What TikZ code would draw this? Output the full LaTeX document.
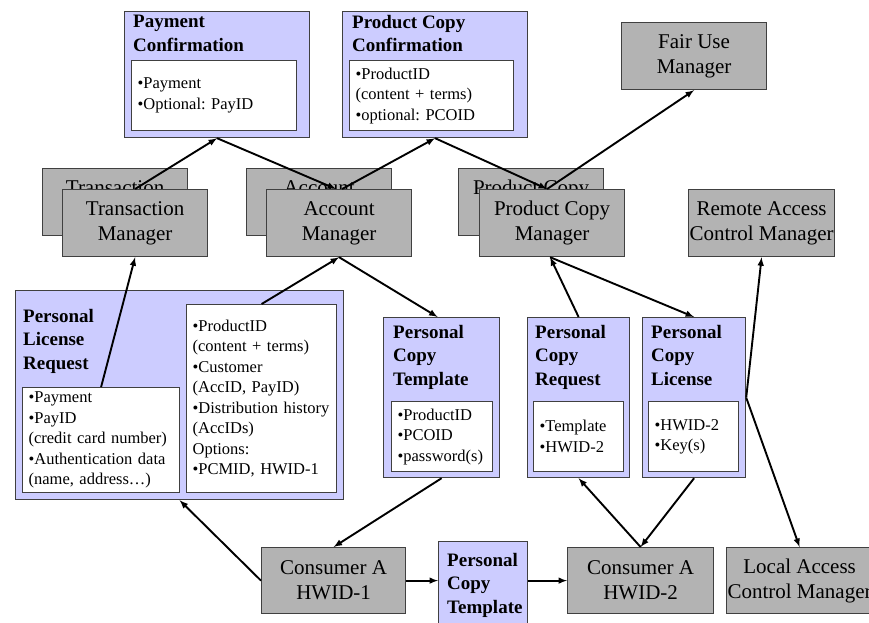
\documentclass[tikz,border=0pt]{standalone}
\usepackage{fontspec}
\setmainfont{Liberation Serif}
\usepackage{tikz}
\usetikzlibrary{arrows,positioning}
\usepackage{xcolor}
\definecolor{msgblue}{RGB}{204,204,255}
\definecolor{mgrgray}{RGB}{179,179,179}
\frenchspacing

\begin{document}
\begin{tikzpicture}[x=1pt,y=-1pt,
        mgr/.style={draw=black!75,line width=1.2pt,fill=mgrgray,align=center,anchor=north west,inner sep=0pt,minimum width=145pt,minimum height=67pt,font=\fontsize{21}{25}\selectfont},
        msg/.style={draw=black!75,line width=1.2pt,fill=msgblue,anchor=north west,inner sep=0pt},
        field/.style={draw=black!75,line width=1.2pt,fill=white,anchor=north west,align=left,inner xsep=6pt,inner ysep=0pt,font=\fontsize{16.5}{20.5}\selectfont},
        ttl/.style={align=left,inner sep=0pt,font=\fontsize{19}{23.5}\selectfont\bfseries},
        flow/.style={-latex,line width=1.9pt}]
        \useasboundingbox (0,0) rectangle (869,622);

        \node [msg,minimum width=185pt,minimum height=126pt] (pc) at (124,11) {};
        \node [ttl,below right=4pt and 9pt of pc.north west] (pc-t) {Payment\\Confirmation};
        \node [field,text width=153pt,minimum height=70pt] (pc-f) at (131,60) {•Payment\\•Optional: PayID};

        \node [msg,minimum width=185pt,minimum height=126pt] (pcc) at (342,11) {};
        \node [ttl,below right=4pt and 10pt of pcc.north west] (pcc-t) {Product Copy\\Confirmation};
        \node [field,text width=152pt,minimum height=70pt] (pcc-f) at (349,60) {•ProductID\\(content + terms)\\•optional: PCOID};

        \node [mgr] (fum) at (621,22) {Fair Use\\Manager};
        \node [mgr] (tmb) at (42,168) {Transaction\\Manager};
        \node [mgr] (tm) at (62,189) {Transaction\\Manager};
        \node [mgr] (amb) at (246,168) {Account\\Manager};
        \node [mgr] (am) at (266,189) {Account\\Manager};
        \node [mgr] (pcmb) at (458,168) {Product Copy\\Manager};
        \node [mgr] (pcm) at (479,189) {Product Copy\\Manager};
        \node [mgr,minimum width=146pt] (racm) at (688,189) {Remote Access\\Control Manager};

        \node [msg,minimum width=328pt,minimum height=209pt] (plr) at (15,290) {};
        \node [ttl,below right=19pt and 8pt of plr.north west] (plr-t) {Personal\\License\\Request};
        \node [field,text width=145pt,minimum height=105pt] (plr-l) at (22,387) {•Payment\\•PayID\\(credit card number)\\•Authentication data\\(name, address…)};
        \node [field,text width=138pt,minimum height=188pt] (plr-r) at (186,304) {•ProductID\\(content + terms)\\•Customer\\(AccID, PayID)\\•Distribution history\\(AccIDs)\\Options:\\•PCMID, HWID-1};

        \node [msg,minimum width=116pt,minimum height=160pt] (pct) at (383,317) {};
        \node [ttl,below right=8pt and 10pt of pct.north west] (pct-t) {Personal\\Copy\\Template};
        \node [field,text width=89pt,minimum height=70pt] (pct-f) at (391,401) {•ProductID\\•PCOID\\•password(s)};

        \node [msg,minimum width=102pt,minimum height=160pt] (pcr) at (527,317) {};
        \node [ttl,below right=8pt and 8pt of pcr.north west] (pcr-t) {Personal\\Copy\\Request};
        \node [field,text width=78pt,minimum height=70pt] (pcr-f) at (533,401) {•Template\\•HWID-2};

        \node [msg,minimum width=103pt,minimum height=160pt] (pcl) at (642,317) {};
        \node [ttl,below right=8pt and 9pt of pcl.north west] (pcl-t) {Personal\\Copy\\License};
        \node [field,text width=78pt,minimum height=70pt] (pcl-f) at (648,401) {•HWID-2\\•Key(s)};

        \node [mgr,minimum width=144pt,minimum height=66pt] (ca1) at (261,547) {Consumer A\\HWID-1};
        \node [msg,minimum width=89pt,minimum height=100pt] (pct2) at (438,541) {};
        \node [ttl,below right=12pt and 9pt of pct2.north west] (pct2-t) {Personal\\Copy\\Template};
        \node [mgr,minimum width=146pt,minimum height=66pt] (ca2) at (567,547) {Consumer A\\HWID-2};
        \node [mgr,minimum width=146pt,minimum height=66pt] (lacm) at (726,547) {Local Access\\Control Manager};

        \draw[flow] (tm.north) to (pc.south);
        \draw[flow] (pc.south) to ([xshift=-3pt]am.north);
        \draw[flow] ([xshift=3pt]am.north) to (pcc.south);
        \draw[flow] (pcc.south) to ([xshift=-5pt]pcm.north);
        \draw[flow] ([xshift=-5pt]pcm.north) to (fum.south);
        \draw[flow] (plr-l.north) to (tm.south);
        \draw[flow] (plr-r.north) to (am.south);
        \draw[flow] (am.south) to ([xshift=-4pt]pct.north);
        \draw[flow] (ca1.west) to (plr.south);
        \draw[flow] (pct.south) to (ca1.north);
        \draw[flow] (ca1.east) to (ca1.east -| pct2.west);
        \draw[flow] (pct2.east |- ca2.west) to (ca2.west);
        \draw[flow] (ca2.north) to (pcr.south);
        \draw[flow] (pcl.south) to (ca2.north);
        \draw[flow] (pcr.north) to ([xshift=-2pt]pcm.south);
        \draw[flow] ([xshift=-2pt]pcm.south) to (pcl.north);
        \draw[flow] (pcl.east) to (racm.south);
        \draw[flow] (pcl.east) to (lacm.north);
\end{tikzpicture}
\end{document}
